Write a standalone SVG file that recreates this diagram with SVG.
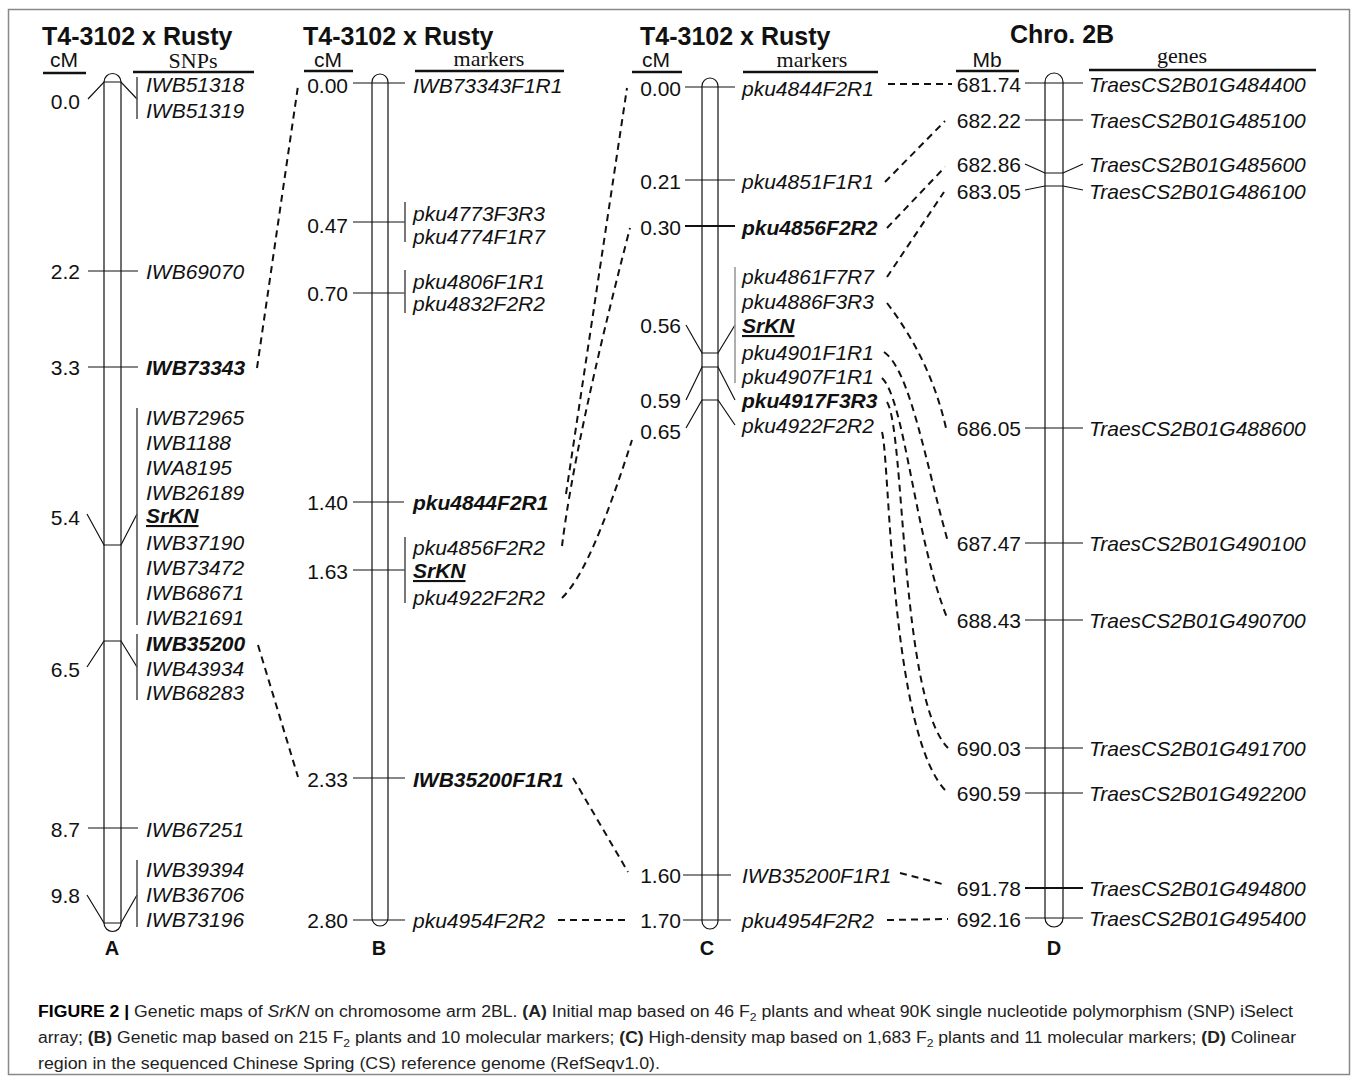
<svg xmlns="http://www.w3.org/2000/svg" width="1358" height="1081" viewBox="0 0 1358 1081">
<style>
.t{font-family:"Liberation Sans",Arial,sans-serif;font-size:21px;fill:#111}
.n{text-anchor:end}
.i{font-style:italic}
.b{font-weight:bold}
.h{font-family:"Liberation Sans",Arial,sans-serif;font-size:25px;font-weight:bold;fill:#111}
.sr{font-family:"Liberation Serif","Times New Roman",serif;font-size:22px;fill:#111;text-anchor:middle}
.cm{font-family:"Liberation Sans",Arial,sans-serif;font-size:21px;fill:#111;text-anchor:middle}
.lt{font-family:"Liberation Sans",Arial,sans-serif;font-size:20px;font-weight:bold;fill:#111;text-anchor:middle}
.ul{stroke:#111;stroke-width:2.5}
.chr{fill:#fff;stroke:#111;stroke-width:1.2}
.tk{stroke:#111;stroke-width:1.2;fill:none}
.tkb{stroke:#111;stroke-width:2;fill:none}
.br{stroke:#555;stroke-width:1.6}
.brg{stroke:#9a9a9a;stroke-width:1.6}
.d{stroke:#111;stroke-width:2;stroke-dasharray:7 5;fill:none}
.cap{font-family:"Liberation Sans Narrow","Liberation Sans",Arial,sans-serif;font-size:16px;fill:#222}
</style>
<rect x="8.5" y="9.5" width="1341" height="1065" fill="#fff" stroke="#888" stroke-width="1.5"/>

<g id="map-A">
  <text class="h" x="42" y="45">T4-3102 x Rusty</text>
  <text class="cm" x="64" y="67">cM</text>
  <line class="ul" x1="43" y1="73" x2="86" y2="73"/>
  <text class="sr" x="193" y="68">SNPs</text>
  <line class="ul" x1="133" y1="72" x2="254" y2="72"/>
  <path class="chr" d="M104,82 V923 A8.5,8.5 0 0 0 121,923 V82 A8.5,8.5 0 0 0 104,82 Z"/>
  <polyline class="tk" points="88,99 104,82 121,82 137,99"/>
  <line class="br" x1="137" y1="77" x2="137" y2="119"/>
  <line class="tk" x1="88" y1="271" x2="138" y2="271"/>
  <line class="tk" x1="88" y1="367" x2="138" y2="367"/>
  <polyline class="tk" points="87,514 104,545 121,545 137,514"/>
  <line class="br" x1="137" y1="408" x2="137" y2="625"/>
  <polyline class="tk" points="87,667 104,641 121,641 137,667"/>
  <line class="br" x1="137" y1="634" x2="137" y2="700"/>
  <line class="tk" x1="88" y1="828" x2="138" y2="828"/>
  <polyline class="tk" points="87,895 104,923 121,923 137,895"/>
  <line class="br" x1="137" y1="860" x2="137" y2="927"/>
  <text class="t n" x="80" y="108.5">0.0</text>
  <text class="t n" x="80" y="278.5">2.2</text>
  <text class="t n" x="80" y="374.5">3.3</text>
  <text class="t n" x="80" y="525">5.4</text>
  <text class="t n" x="80" y="676.5">6.5</text>
  <text class="t n" x="80" y="836.5">8.7</text>
  <text class="t n" x="80" y="902.5">9.8</text>
  <text class="t i" x="146" y="91.5">IWB51318</text>
  <text class="t i" x="146" y="117.5">IWB51319</text>
  <text class="t i" x="146" y="278.5">IWB69070</text>
  <text class="t i b" x="146" y="374.5">IWB73343</text>
  <text class="t i" x="146" y="424.5">IWB72965</text>
  <text class="t i" x="146" y="449.5">IWB1188</text>
  <text class="t i" x="146" y="474.5">IWA8195</text>
  <text class="t i" x="146" y="499.5">IWB26189</text>
  <text class="t i b" x="146" y="523" text-decoration="underline">SrKN</text>
  <text class="t i" x="146" y="549.5">IWB37190</text>
  <text class="t i" x="146" y="574.5">IWB73472</text>
  <text class="t i" x="146" y="599.5">IWB68671</text>
  <text class="t i" x="146" y="624.5">IWB21691</text>
  <text class="t i b" x="146" y="650.5">IWB35200</text>
  <text class="t i" x="146" y="675.5">IWB43934</text>
  <text class="t i" x="146" y="699.5">IWB68283</text>
  <text class="t i" x="146" y="836.5">IWB67251</text>
  <text class="t i" x="146" y="876.5">IWB39394</text>
  <text class="t i" x="146" y="901.5">IWB36706</text>
  <text class="t i" x="146" y="926.5">IWB73196</text>
  <text class="lt" x="112" y="955">A</text>
</g>

<g id="map-B">
  <text class="h" x="303" y="45">T4-3102 x Rusty</text>
  <text class="cm" x="328" y="67">cM</text>
  <line class="ul" x1="304" y1="71" x2="353" y2="71"/>
  <text class="sr" x="489" y="66">markers</text>
  <line class="ul" x1="415" y1="71" x2="564" y2="71"/>
  <path class="chr" d="M372,82 V918 A8,8 0 0 0 388,918 V82 A8,8 0 0 0 372,82 Z"/>
  <line class="tk" x1="353" y1="83" x2="405" y2="83"/>
  <line class="tk" x1="353" y1="222" x2="405" y2="222"/>
  <line class="br" x1="405" y1="202" x2="405" y2="242"/>
  <line class="tk" x1="353" y1="293" x2="405" y2="293"/>
  <line class="br" x1="405" y1="270" x2="405" y2="313"/>
  <line class="tk" x1="353" y1="502" x2="404" y2="502"/>
  <line class="tk" x1="353" y1="570" x2="405" y2="570"/>
  <line class="br" x1="405" y1="537" x2="405" y2="603"/>
  <line class="tk" x1="353" y1="778" x2="405" y2="778"/>
  <line class="tk" x1="353" y1="920" x2="405" y2="920"/>
  <text class="t n" x="348" y="92.5">0.00</text>
  <text class="t n" x="348" y="232.5">0.47</text>
  <text class="t n" x="348" y="300.5">0.70</text>
  <text class="t n" x="348" y="509.5">1.40</text>
  <text class="t n" x="348" y="578.5">1.63</text>
  <text class="t n" x="348" y="786.5">2.33</text>
  <text class="t n" x="348" y="927.5">2.80</text>
  <text class="t i" x="413" y="92.5">IWB73343F1R1</text>
  <text class="t i" x="413" y="220.5">pku4773F3R3</text>
  <text class="t i" x="413" y="243.5">pku4774F1R7</text>
  <text class="t i" x="413" y="288.5">pku4806F1R1</text>
  <text class="t i" x="413" y="310.5">pku4832F2R2</text>
  <text class="t i b" x="413" y="509.5">pku4844F2R1</text>
  <text class="t i" x="413" y="554.5">pku4856F2R2</text>
  <text class="t i b" x="413" y="578" text-decoration="underline">SrKN</text>
  <text class="t i" x="413" y="604.5">pku4922F2R2</text>
  <text class="t i b" x="413" y="786.5">IWB35200F1R1</text>
  <text class="t i" x="413" y="927.5">pku4954F2R2</text>
  <text class="lt" x="379" y="955">B</text>
</g>

<g id="map-C">
  <text class="h" x="640" y="45">T4-3102 x Rusty</text>
  <text class="cm" x="656" y="67">cM</text>
  <line class="ul" x1="632" y1="72" x2="682" y2="72"/>
  <text class="sr" x="812" y="67">markers</text>
  <line class="ul" x1="743" y1="72" x2="878" y2="72"/>
  <path class="chr" d="M702,86 V921 A8,8 0 0 0 718,921 V86 A8,8 0 0 0 702,86 Z"/>
  <line class="tk" x1="685" y1="87" x2="735" y2="87"/>
  <line class="tk" x1="685" y1="180" x2="735" y2="180"/>
  <line class="tkb" x1="685" y1="226" x2="735" y2="226"/>
  <polyline class="tk" points="686,325 702,353 718,353 735,325"/>
  <line class="brg" x1="735" y1="267" x2="735" y2="383"/>
  <polyline class="tk" points="686,400 702,367 718,367 735,400"/>
  <polyline class="tk" points="686,428 702,400 718,400 735,425"/>
  <line class="tk" x1="683" y1="875" x2="731" y2="875"/>
  <line class="tk" x1="683" y1="920" x2="731" y2="920"/>
  <text class="t n" x="681" y="95.5">0.00</text>
  <text class="t n" x="681" y="188.5">0.21</text>
  <text class="t n" x="681" y="234.5">0.30</text>
  <text class="t n" x="681" y="332.5">0.56</text>
  <text class="t n" x="681" y="407.5">0.59</text>
  <text class="t n" x="681" y="438.5">0.65</text>
  <text class="t n" x="681" y="882.5">1.60</text>
  <text class="t n" x="681" y="927.5">1.70</text>
  <text class="t i" x="742" y="95.5">pku4844F2R1</text>
  <text class="t i" x="742" y="188.5">pku4851F1R1</text>
  <text class="t i b" x="742" y="234.5">pku4856F2R2</text>
  <text class="t i" x="742" y="283.5">pku4861F7R7</text>
  <text class="t i" x="742" y="308.5">pku4886F3R3</text>
  <text class="t i b" x="742" y="333" text-decoration="underline">SrKN</text>
  <text class="t i" x="742" y="359.5">pku4901F1R1</text>
  <text class="t i" x="742" y="383.5">pku4907F1R1</text>
  <text class="t i b" x="742" y="407.5">pku4917F3R3</text>
  <text class="t i" x="742" y="432.5">pku4922F2R2</text>
  <text class="t i" x="742" y="882.5">IWB35200F1R1</text>
  <text class="t i" x="742" y="927.5">pku4954F2R2</text>
  <text class="lt" x="707" y="955">C</text>
</g>

<g id="map-D">
  <text class="h" x="1010" y="43">Chro. 2B</text>
  <text class="cm" x="987" y="67">Mb</text>
  <line class="ul" x1="956" y1="71" x2="1019" y2="71"/>
  <text class="sr" x="1182" y="63">genes</text>
  <line class="ul" x1="1089" y1="70" x2="1316" y2="70"/>
  <path class="chr" d="M1045,82 V918 A9,9 0 0 0 1063,918 V82 A9,9 0 0 0 1045,82 Z"/>
  <line class="tk" x1="1025" y1="83" x2="1083" y2="83"/>
  <line class="tk" x1="1025" y1="120" x2="1083" y2="120"/>
  <polyline class="tk" points="1025,164 1045,173 1063,173 1083,164"/>
  <polyline class="tk" points="1025,190 1045,186 1063,186 1083,190"/>
  <line class="tk" x1="1025" y1="428" x2="1083" y2="428"/>
  <line class="tk" x1="1025" y1="543" x2="1083" y2="543"/>
  <line class="tk" x1="1025" y1="620" x2="1083" y2="620"/>
  <line class="tk" x1="1025" y1="748" x2="1083" y2="748"/>
  <line class="tk" x1="1025" y1="793" x2="1083" y2="793"/>
  <line class="tkb" x1="1025" y1="888" x2="1083" y2="888"/>
  <line class="tk" x1="1025" y1="918" x2="1083" y2="918"/>
  <text class="t n" x="1021" y="91.5">681.74</text>
  <text class="t n" x="1021" y="127.5">682.22</text>
  <text class="t n" x="1021" y="171.5">682.86</text>
  <text class="t n" x="1021" y="198.5">683.05</text>
  <text class="t n" x="1021" y="435.5">686.05</text>
  <text class="t n" x="1021" y="550.5">687.47</text>
  <text class="t n" x="1021" y="627.5">688.43</text>
  <text class="t n" x="1021" y="755.5">690.03</text>
  <text class="t n" x="1021" y="800.5">690.59</text>
  <text class="t n" x="1021" y="895.5">691.78</text>
  <text class="t n" x="1021" y="926.5">692.16</text>
  <text class="t i" x="1089" y="91.5">TraesCS2B01G484400</text>
  <text class="t i" x="1089" y="127.5">TraesCS2B01G485100</text>
  <text class="t i" x="1089" y="171.5">TraesCS2B01G485600</text>
  <text class="t i" x="1089" y="198.5">TraesCS2B01G486100</text>
  <text class="t i" x="1089" y="435.5">TraesCS2B01G488600</text>
  <text class="t i" x="1089" y="550.5">TraesCS2B01G490100</text>
  <text class="t i" x="1089" y="627.5">TraesCS2B01G490700</text>
  <text class="t i" x="1089" y="755.5">TraesCS2B01G491700</text>
  <text class="t i" x="1089" y="800.5">TraesCS2B01G492200</text>
  <text class="t i" x="1089" y="895.5">TraesCS2B01G494800</text>
  <text class="t i" x="1089" y="925.5">TraesCS2B01G495400</text>
  <text class="lt" x="1054" y="955">D</text>
</g>

<g id="connectors">
  <path class="d" d="M257,368 L298,86"/>
  <path class="d" d="M258,645 L298,777"/>
  <path class="d" d="M566,494 L627,88"/>
  <path class="d" d="M562,546 Q575,440 630,228"/>
  <path class="d" d="M562,598 C580,580 600,540 632,440"/>
  <path class="d" d="M573,778 L628,872"/>
  <path class="d" d="M558,920 L630,920"/>
  <path class="d" d="M888,84 L952,84"/>
  <path class="d" d="M885,182 L945,121"/>
  <path class="d" d="M887,228 L945,167"/>
  <path class="d" d="M887,277 L944,192"/>
  <path class="d" d="M887,303 C915,340 935,380 946,428"/>
  <path class="d" d="M884,352 C910,370 925,460 948,542"/>
  <path class="d" d="M882,378 C905,400 915,540 948,620"/>
  <path class="d" d="M887,402 C905,430 900,700 948,748"/>
  <path class="d" d="M882,432 C890,460 890,740 948,793"/>
  <path class="d" d="M900,873 L946,885"/>
  <path class="d" d="M887,920 L948,919"/>
</g>

<g id="caption">
  <text class="cap" x="38" y="1017" textLength="1255" lengthAdjust="spacingAndGlyphs"><tspan font-weight="bold" fill="#000">FIGURE 2 |</tspan> Genetic maps of <tspan font-style="italic">SrKN</tspan> on chromosome arm 2BL. <tspan font-weight="bold">(A)</tspan> Initial map based on 46 F<tspan font-size="11" dy="4">2</tspan><tspan dy="-4"> plants and wheat 90K single nucleotide polymorphism (SNP) iSelect</tspan></text>
  <text class="cap" x="38" y="1043" textLength="1258" lengthAdjust="spacingAndGlyphs">array; <tspan font-weight="bold">(B)</tspan> Genetic map based on 215 F<tspan font-size="11" dy="4">2</tspan><tspan dy="-4"> plants and 10 molecular markers; </tspan><tspan font-weight="bold">(C)</tspan> High-density map based on 1,683 F<tspan font-size="11" dy="4">2</tspan><tspan dy="-4"> plants and 11 molecular markers; </tspan><tspan font-weight="bold">(D)</tspan> Colinear</text>
  <text class="cap" x="38" y="1069" textLength="622" lengthAdjust="spacingAndGlyphs">region in the sequenced Chinese Spring (CS) reference genome (RefSeqv1.0).</text>
</g>
</svg>
